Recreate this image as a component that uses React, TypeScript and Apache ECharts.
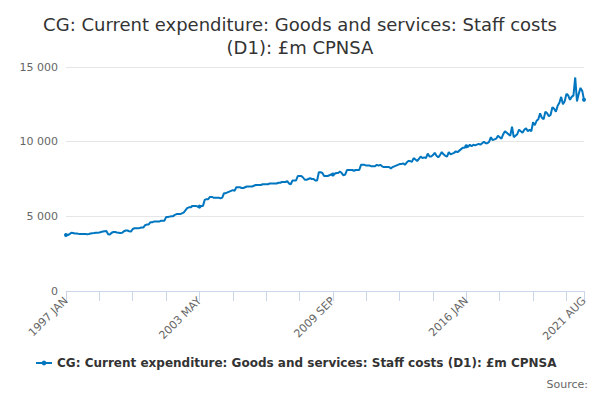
import React, { useEffect, useRef } from "react";
import * as echarts from "echarts";

const years = [1997, 1998, 1999, 2000, 2001, 2002, 2003, 2004, 2005, 2006, 2007, 2008, 2009, 2010, 2011, 2012, 2013, 2014, 2015, 2016, 2017, 2018, 2019, 2020, 2021];
const months = ["JAN", "FEB", "MAR", "APR", "MAY", "JUN", "JUL", "AUG", "SEP", "OCT", "NOV", "DEC"];

// monthly values, one row per year
const values: number[][] = [
  [3750, 3750, 3800, 3900, 3880, 3850, 3850, 3830, 3820, 3820, 3810, 3810],
  [3800, 3820, 3850, 3870, 3880, 3900, 3900, 3920, 3950, 3980, 4000, 4020],
  [3800, 3780, 3900, 3950, 3950, 3920, 3900, 3880, 3900, 4000, 4050, 4050],
  [4000, 3980, 4150, 4200, 4200, 4200, 4220, 4250, 4250, 4400, 4450, 4450],
  [4600, 4600, 4650, 4650, 4650, 4650, 4700, 4700, 4700, 4950, 4950, 4980],
  [5000, 5000, 5100, 5150, 5150, 5150, 5200, 5250, 5400, 5550, 5600, 5600],
  [5700, 5700, 5700, 5650, 5650, 5700, 5700, 6100, 6150, 6150, 6300, 6300],
  [6250, 6250, 6250, 6250, 6200, 6250, 6550, 6550, 6600, 6650, 6700, 6750],
  [6700, 6950, 6950, 6950, 6900, 6900, 6950, 7000, 7000, 7000, 7000, 7050],
  [7100, 7100, 7100, 7100, 7150, 7150, 7150, 7150, 7200, 7200, 7200, 7200],
  [7200, 7250, 7250, 7300, 7300, 7300, 7350, 7200, 7150, 7400, 7400, 7400],
  [7700, 7700, 7700, 7600, 7450, 7450, 7500, 7550, 7500, 7500, 7400, 7400],
  [7950, 7950, 7900, 7700, 7700, 7700, 7750, 7800, 7800, 7850, 7900, 7900],
  [8000, 7900, 7750, 7800, 8100, 8100, 8100, 8100, 8050, 8100, 8100, 8100],
  [8450, 8450, 8450, 8400, 8400, 8400, 8350, 8350, 8350, 8450, 8400, 8450],
  [8350, 8300, 8300, 8300, 8300, 8200, 8300, 8350, 8400, 8450, 8500, 8500],
  [8550, 8450, 8600, 8700, 8700, 8650, 8900, 8800, 8700, 8850, 9000, 8900],
  [8950, 8900, 9200, 9000, 9000, 9100, 9250, 9050, 8950, 9100, 9300, 9150],
  [9050, 9000, 9300, 9150, 9200, 9250, 9350, 9300, 9400, 9500, 9600, 9600],
  [9700, 9650, 9800, 9700, 9800, 9750, 9800, 9850, 9800, 9900, 10000, 9900],
  [9900, 10000, 10300, 10100, 10150, 10200, 10400, 10300, 10200, 10500, 10700, 10600],
  [10500, 10400, 11000, 10300, 10400, 10500, 10800, 10700, 10600, 10800, 10900, 10700],
  [10800, 10700, 11300, 11100, 11400, 11500, 11900, 11600, 11500, 12000, 11900, 11700],
  [11800, 12300, 12200, 12000, 12400, 12600, 13000, 12500, 12700, 13200, 13100, 12800],
  [13000, 13100, 14300, 12700, 13200, 13600, 13400, 12800],
];

const seriesName = "CG: Current expenditure: Goods and services: Staff costs (D1): £m CPNSA";

const App: React.FC = () => {
  const chartRef = useRef<HTMLDivElement>(null);

  useEffect(() => {
    if (!chartRef.current) return;
    const chart = echarts.init(chartRef.current, undefined, { renderer: "svg" });

    const categories: string[] = [];
    const data: number[] = [];
    values.forEach((row, yi) => {
      row.forEach((v, mi) => {
        categories.push(`${years[yi]} ${months[mi]}`);
        data.push(v);
      });
    });
    const last = categories.length - 1;

    chart.setOption({
      animation: false,
      textStyle: { fontFamily: "DejaVu Sans" },
      title: {
        text: "CG: Current expenditure: Goods and services: Staff costs\n(D1): £m CPNSA",
        left: "center",
        top: 0,
        textStyle: { fontSize: 18, fontWeight: "normal", color: "#333", lineHeight: 23 },
      },
      grid: { left: 58, right: 8, top: 59, bottom: 101 },
      xAxis: {
        type: "category",
        data: categories,
        boundaryGap: false,
        axisLine: { lineStyle: { color: "#ccd6eb" } },
        axisTick: {
          show: true,
          length: 10,
          lineStyle: { color: "#ccd6eb" },
          interval: (i: number) => i % 19 === 0 || i === last,
        },
        axisLabel: {
          rotate: 45,
          color: "#666",
          fontSize: 11,
          interval: (i: number) => i % 76 === 0 || i === last,
        },
      },
      yAxis: {
        type: "value",
        min: 0,
        max: 15000,
        interval: 5000,
        axisLabel: {
          color: "#666",
          fontSize: 11,
          formatter: (v: number) => (v >= 1000 ? `${Math.floor(v / 1000)} ${String(v % 1000).padStart(3, "0")}` : `${v}`),
        },
        splitLine: { lineStyle: { color: "#e6e6e6" } },
      },
      legend: {
        bottom: 18,
        left: 22,
        itemWidth: 16,
        itemHeight: 6,
        textStyle: { fontSize: 12, fontWeight: "bold", color: "#333" },
        data: [seriesName],
      },
      graphic: [
        {
          type: "text",
          right: 4,
          bottom: 2,
          style: { text: "Source:", fontSize: 11, fill: "#666", fontFamily: "DejaVu Sans" },
        },
      ],
      series: [
        {
          name: seriesName,
          type: "line",
          data,
          symbol: "circle",
          symbolSize: 4,
          itemStyle: { color: "#0076c0" },
          lineStyle: { width: 2, color: "#0076c0" },
        },
      ],
    });

    return () => chart.dispose();
  }, []);

  return <div ref={chartRef} style={{ width: 584, height: 384 }} />;
};

export default App;
